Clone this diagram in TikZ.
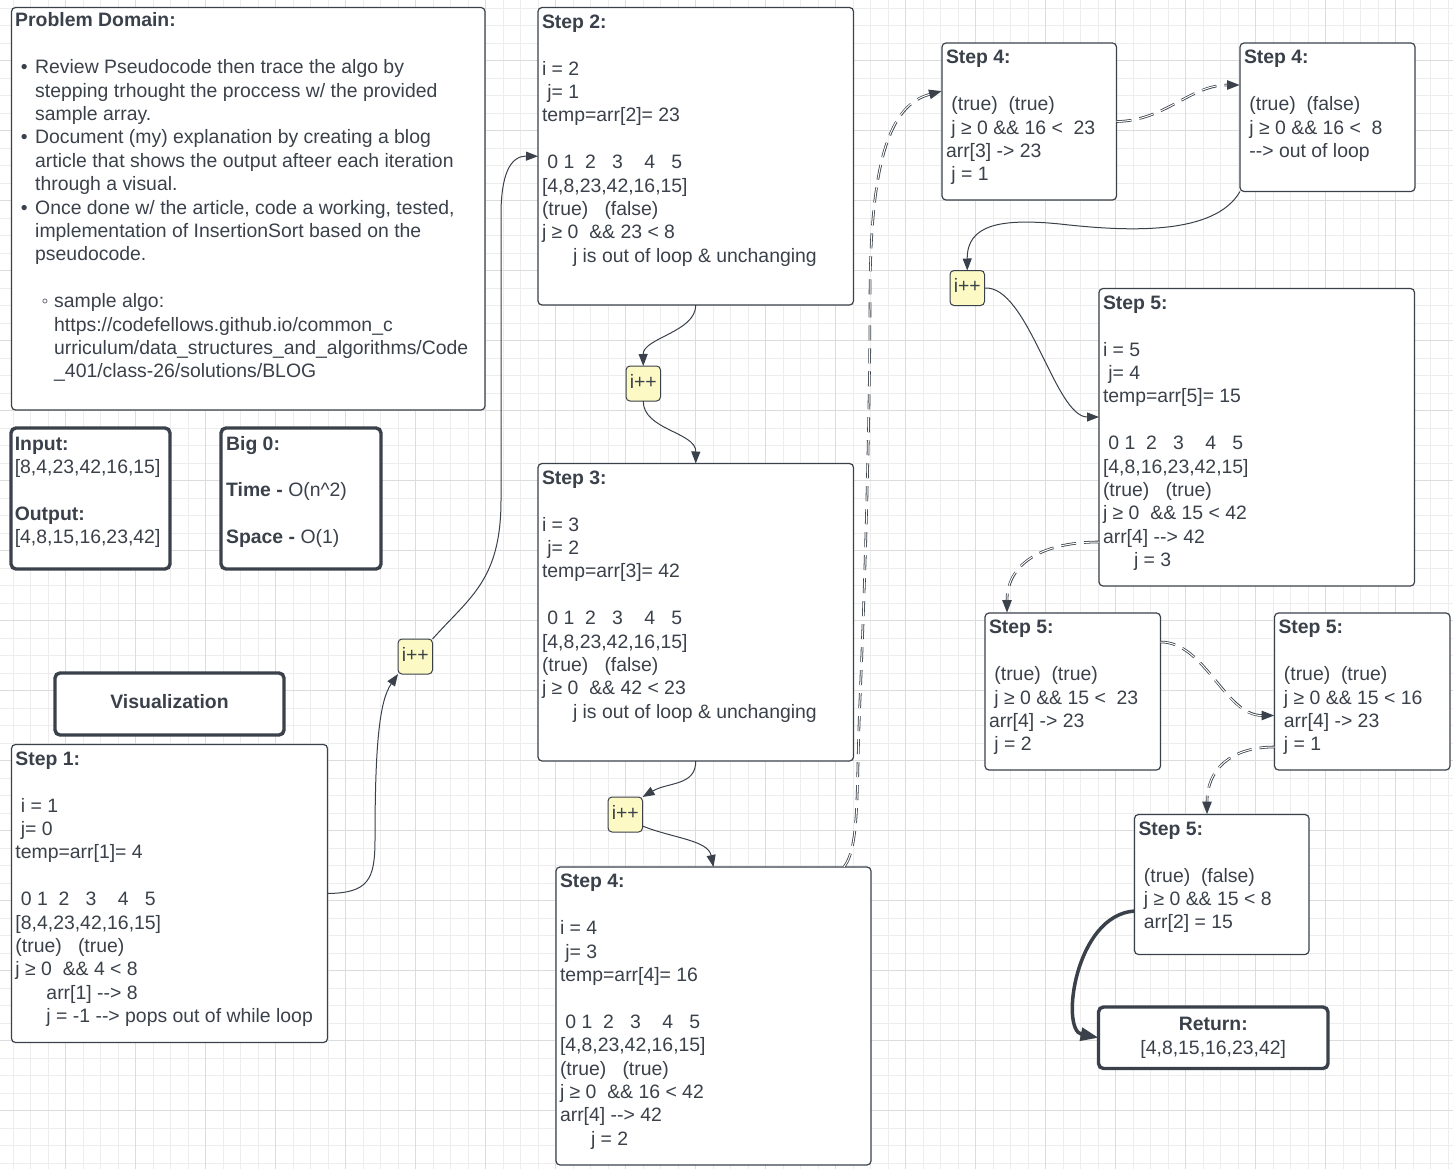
\documentclass[tikz,border=0pt]{standalone}
\usepackage{fontspec}
\setmainfont{Liberation Sans}[Ligatures=TeXOff]
\usetikzlibrary{arrows.meta}

\definecolor{lc}{HTML}{3A414A}
\definecolor{incfill}{HTML}{FCF9C4}
\definecolor{gminor}{HTML}{EDEDED}
\definecolor{gmajor}{HTML}{DCDCDC}

\newcommand\fsz{\fontsize{19.4pt}{23.4pt}\selectfont}
\newcommand\idxrow{~0~1~~2~~~3~~~~4~~~5}
\newcommand\bulA{\hspace*{5.6pt}\makebox[14.4pt][l]{•}}
\newcommand\indA{\hspace*{20pt}}
\newcommand\bulB{\hspace*{26.3pt}\makebox[12.7pt][l]{◦}}
\newcommand\indB{\hspace*{39pt}}
\newcommand\jind{\hspace*{31pt}}

\begin{document}
\begin{tikzpicture}[x=1pt,y=1pt,
  box/.style={draw=lc, line width=1.2pt, rounded corners=4pt, fill=white,
    inner sep=0pt, outer sep=0pt, anchor=north west, text=lc, font=\fsz},
  thickbox/.style={box, line width=3.4pt, rounded corners=5pt},
  inc/.style={box, line width=1pt, fill=incfill, minimum width=34.5pt, minimum height=35pt},
  txt/.style={anchor=north west, inner sep=0pt, align=left, font=\fsz, text=lc},
  conn/.style={draw=lc, line width=1pt, -{Triangle[length=12pt,width=9pt]}},
  dconn/.style={draw=lc, line width=2.6pt, dash pattern=on 15pt off 8pt,
    -{Triangle[length=13pt,width=9pt]},
    postaction={draw=white, line width=1pt, dash pattern=on 15pt off 8pt, shorten >=13pt, -}},
  tconn/.style={draw=lc, line width=3.5pt, -{Triangle[length=18pt,width=13pt]}}
]
% canvas and grid
\fill[white] (0,0) rectangle (1453,-1169);
\useasboundingbox (0,0) rectangle (1453,-1169);
\foreach \k in {0,...,82} \draw[gminor, line width=0.9pt] ({13.2+17.5*\k},0) -- ({13.2+17.5*\k},-1169);
\foreach \k in {0,...,66} \draw[gminor, line width=0.9pt] (0,{-8.2-17.5*\k}) -- (1453,{-8.2-17.5*\k});
\foreach \k in {0,...,19} \draw[gmajor, line width=1pt] ({65.7+70*\k},0) -- ({65.7+70*\k},-1169);
\foreach \k in {0,...,15} \draw[gmajor, line width=1pt] (0,{-60.7-70*\k}) -- (1453,{-60.7-70*\k});

% problem statement
\node[box, minimum width=473.5pt, minimum height=402.5pt] (pd) at (11.5,-7.5) {};
\node[txt] (pdt) at ([shift={(3.5,-2.8)}]pd.north west) {\strut\textbf{Problem Domain:}\\
\mbox{}\\
\bulA Review Pseudocode then trace the algo by\\
\indA stepping trhought the proccess w/ the provided\\
\indA sample array.\\
\bulA Document (my) explanation by creating a blog\\
\indA article that shows the output afteer each iteration\\
\indA through a visual.\\
\bulA Once done w/ the article, code a working, tested,\\
\indA implementation of InsertionSort based on the\\
\indA pseudocode.\\
\mbox{}\\
\bulB sample algo:\\
\indB https://codefellows.github.io/common\_c\\
\indB urriculum/data\_structures\_and\_algorithms/Code\\
\indB \_401/class-26/solutions/BLOG};

% input / output and complexity
\node[thickbox, minimum width=159pt, minimum height=141pt] (io) at (11,-428) {};
\node[txt] (iot) at ([shift={(3.6,-5.6)}]io.north west) {\strut\textbf{Input:}\\
{[}8,4,23,42,16,15]\\
\mbox{}\\
\textbf{Output:}\\
{[}4,8,15,16,23,42]};

\node[thickbox, minimum width=160pt, minimum height=141pt] (bigo) at (221,-428) {};
\node[txt] (bigot) at ([shift={(4.9,-5.6)}]bigo.north west) {\strut\textbf{Big 0:}\\
\mbox{}\\
\textbf{Time -} O(n\textasciicircum 2)\\
\mbox{}\\
\textbf{Space -} O(1)};

\node[thickbox, minimum width=229pt, minimum height=62pt, font=\fsz\bfseries] (vis) at (55,-673) {\strut Visualization};

% step 1
\node[box, minimum width=316pt, minimum height=298pt] (s1) at (11.5,-744.5) {};
\node[txt] (s1t) at ([shift={(3.8,-4.3)}]s1.north west) {\strut\textbf{Step 1:}\\
\mbox{}\\
~i = 1\\
~j= 0\\
temp=arr[1]= 4\\
\mbox{}\\
\idxrow\\
{[}8,4,23,42,16,15]\\
(true)~~~(true)\\
j ≥ 0~~\&\& 4 < 8\\
\jind arr[1] --> 8\\
\jind j = -1 --> pops out of while loop};

\node[inc] (i1) at (398,-639) {\strut i++};

% step 2
\node[box, minimum width=315.5pt, minimum height=297.5pt] (s2) at (538,-7.5) {};
\node[txt] (s2t) at ([shift={(3.8,-4.3)}]s2.north west) {\strut\textbf{Step 2:}\\
\mbox{}\\
i = 2\\
~j= 1\\
temp=arr[2]= 23\\
\mbox{}\\
\idxrow\\
{[}4,8,23,42,16,15]\\
(true)~~~(false)\\
j ≥ 0~~\&\& 23 < 8\\
\jind j is out of loop \& unchanging};

\node[inc] (i2) at (626,-366) {\strut i++};

% step 3
\node[box, minimum width=315.5pt, minimum height=297.5pt] (s3) at (538,-463.5) {};
\node[txt] (s3t) at ([shift={(3.8,-4.3)}]s3.north west) {\strut\textbf{Step 3:}\\
\mbox{}\\
i = 3\\
~j= 2\\
temp=arr[3]= 42\\
\mbox{}\\
\idxrow\\
{[}4,8,23,42,16,15]\\
(true)~~~(false)\\
j ≥ 0~~\&\& 42 < 23\\
\jind j is out of loop \& unchanging};

\node[inc] (i3) at (608,-797) {\strut i++};

% step 4
\node[box, minimum width=315pt, minimum height=298pt] (s4) at (556,-867) {};
\node[txt] (s4t) at ([shift={(3.8,-4.3)}]s4.north west) {\strut\textbf{Step 4:}\\
\mbox{}\\
i = 4\\
~j= 3\\
temp=arr[4]= 16\\
\mbox{}\\
\idxrow\\
{[}4,8,23,42,16,15]\\
(true)~~~(true)\\
j ≥ 0~~\&\& 16 < 42\\
arr[4] --> 42\\
\jind j = 2};

\node[box, minimum width=174.5pt, minimum height=157pt] (s4a) at (942,-43) {};
\node[txt] (s4at) at ([shift={(3.8,-4.3)}]s4a.north west) {\strut\textbf{Step 4:}\\
\mbox{}\\
~(true)~~(true)\\
~j ≥ 0 \&\& 16 <~~23\\
arr[3] -> 23\\
~j = 1};

\node[box, minimum width=175pt, minimum height=148.5pt] (s4b) at (1240,-43) {};
\node[txt] (s4bt) at ([shift={(3.8,-4.3)}]s4b.north west) {\strut\textbf{Step 4:}\\
\mbox{}\\
~(true)~~(false)\\
~j ≥ 0 \&\& 16 <~~8\\
~--> out of loop};

\node[inc] (i4) at (950,-270.5) {\strut i++};

% step 5
\node[box, minimum width=315.5pt, minimum height=297.5pt] (s5) at (1099,-288.5) {};
\node[txt] (s5t) at ([shift={(3.8,-4.3)}]s5.north west) {\strut\textbf{Step 5:}\\
\mbox{}\\
i = 5\\
~j= 4\\
temp=arr[5]= 15\\
\mbox{}\\
\idxrow\\
{[}4,8,16,23,42,15]\\
(true)~~~(true)\\
j ≥ 0~~\&\& 15 < 42\\
arr[4] --> 42\\
\jind j = 3};

\node[box, minimum width=175.5pt, minimum height=157pt] (s5a) at (985,-613) {};
\node[txt] (s5at) at ([shift={(3.8,-4.3)}]s5a.north west) {\strut\textbf{Step 5:}\\
\mbox{}\\
~(true)~~(true)\\
~j ≥ 0 \&\& 15 <~~23\\
arr[4] -> 23\\
~j = 2};

\node[box, minimum width=175.5pt, minimum height=157pt] (s5b) at (1274.5,-613) {};
\node[txt] (s5bt) at ([shift={(3.8,-4.3)}]s5b.north west) {\strut\textbf{Step 5:}\\
\mbox{}\\
~(true)~~(true)\\
~j ≥ 0 \&\& 15 < 16\\
~arr[4] -> 23\\
~j = 1};

\node[box, minimum width=174.5pt, minimum height=140pt] (s5c) at (1134.5,-814.5) {};
\node[txt] (s5ct) at ([shift={(3.8,-4.3)}]s5c.north west) {\strut\textbf{Step 5:}\\
\mbox{}\\
~(true)~~(false)\\
~j ≥ 0 \&\& 15 < 8\\
~arr[2] = 15};

\node[thickbox, minimum width=229.5pt, minimum height=61.5pt, align=center] (ret) at (1098.5,-1007) {\strut\textbf{Return:}\\ \strut{[}4,8,15,16,23,42]};

% connectors
\draw[conn] (s1.east) .. controls (368,-893) and (375,-880) .. (375,-840)
  .. controls (375,-740) and (380,-700) .. (i1.south west);
\draw[conn] (i1.north east) .. controls (470,-597) and (501,-580) .. (501,-500)
  -- (501,-215) .. controls (501,-175) and (510,-156) .. (s2.west);
\draw[conn] (s2.south) .. controls (696,-332) and (643,-338) .. (i2.north);
\draw[conn] (i2.south) .. controls (643,-430) and (696,-432) .. (s3.north);
\draw[conn] (s3.south) .. controls (696,-786) and (668,-782) .. (i3.north east);
\draw[conn] ([yshift=6pt]i3.south east) .. controls (672,-838) and (708,-840) .. (s4.north);

\draw[dconn] ([xshift=-27pt]s4.north east) .. controls (860,-846) and (856,-790) .. (860,-700)
  .. controls (866,-560) and (870,-400) .. (870,-300)
  .. controls (870,-160) and (890,-105) .. ([yshift=-48pt]s4a.north west);
\draw[dconn] (s4a.east) .. controls (1165,-121) and (1190,-85) .. ([yshift=-42pt]s4b.north west);
\draw[conn] (s4b.south west) .. controls (1215,-235) and (1130,-232) .. (1060,-224)
  .. controls (1000,-218) and (967,-225) .. (i4.north);
\draw[conn] (i4.east) .. controls (1028,-285) and (1055,-417) .. ([yshift=-128.5pt]s5.north west);
\draw[dconn] ([yshift=44pt]s5.south west) .. controls (1040,-542) and (1007,-565) .. ([xshift=22pt]s5a.north west);
\draw[dconn] ([yshift=-29pt]s5a.north east) .. controls (1205,-642) and (1225,-715.5) .. ([yshift=-102.5pt]s5b.north west);
\draw[dconn] ([yshift=23pt]s5b.south west) .. controls (1230,-747) and (1207,-770) .. ([xshift=72.5pt]s5c.north west);
\draw[tconn] ([yshift=-96.5pt]s5c.north west) .. controls (1075,-915) and (1060,-1030) .. (ret.west);
\end{tikzpicture}
\end{document}
